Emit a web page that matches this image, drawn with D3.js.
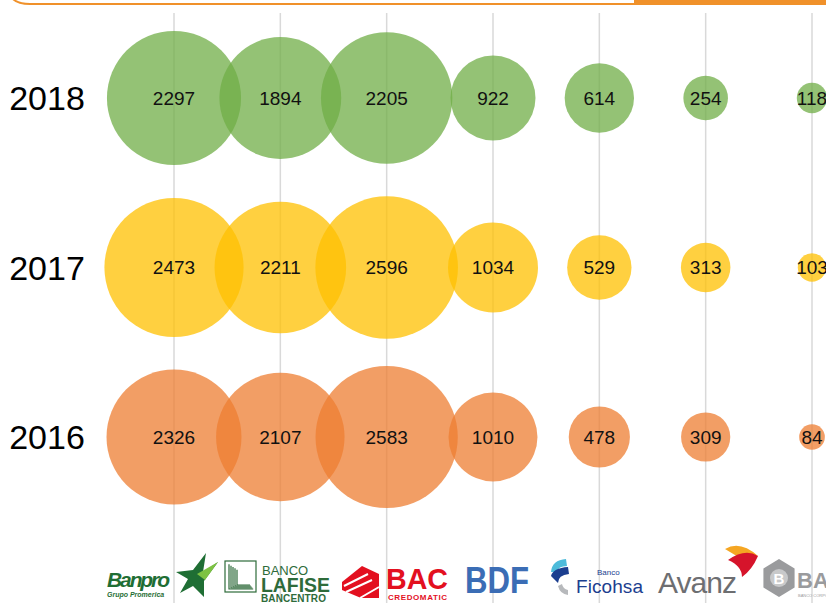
<!DOCTYPE html>
<html>
<head>
<meta charset="utf-8">
<script src="https://cdn.jsdelivr.net/npm/d3@7"></script>
<style>
  body { margin: 0; background: #fff; }
  svg { display: block; font-family: "Liberation Sans", Arial, Helvetica, sans-serif; }
</style>
</head>
<body>
<div id="chart"></div>
<script>
var width = 826;
var height = 603;

// data
var banks = ["Banpro", "Lafise Bancentro", "BAC", "BDF", "Ficohsa", "Avanz", "Bancorp"];
var years = ["2018", "2017", "2016"];
var values2018 = [2297, 1894, 2205, 922, 614, 254, 118];
var values2017 = [2473, 2211, 2596, 1034, 529, 313, 103];
var values2016 = [2326, 2107, 2583, 1010, 478, 309, 84];
var yearColors = ["#70AD47", "#FFC000", "#ED7D31"];

var series = [values2018, values2017, values2016];

var svg = d3.select("#chart")
    .append("svg")
    .attr("width", width)
    .attr("height", height);

var x = d3.scalePoint().domain(banks).range([174, 812]);
var y = d3.scalePoint().domain(years).range([98, 437]);
var r = d3.scaleSqrt().domain([0, 2596]).range([0, 71.3]);

// top frame (bottom edge of a rounded box)
svg.append("path")
    .attr("d", "M12,-2 Q17,4 30,4 L826,4")
    .attr("fill", "none")
    .attr("stroke", "#F0912A")
    .attr("stroke-width", 2);
svg.append("rect")
    .attr("x", 634).attr("y", 0)
    .attr("width", 192).attr("height", 4)
    .attr("fill", "#F0912A");

// vertical gridlines
svg.selectAll(".grid")
    .data(banks)
    .enter()
    .append("line")
    .attr("class", "grid")
    .attr("x1", function(d) { return x(d); })
    .attr("x2", function(d) { return x(d); })
    .attr("y1", 13)
    .attr("y2", height)
    .attr("stroke", "#d9d9d9")
    .attr("stroke-width", 1.5);

// flatten into cells
var cells = [];
years.forEach(function(yr, i) {
    banks.forEach(function(b, j) {
        cells.push({ year: yr, bank: b, value: series[i][j], color: yearColors[i] });
    });
});

svg.selectAll(".bubble")
    .data(cells)
    .enter()
    .append("circle")
    .attr("class", "bubble")
    .attr("cx", function(d) { return x(d.bank); })
    .attr("cy", function(d) { return y(d.year); })
    .attr("r", function(d) { return r(d.value); })
    .attr("fill", function(d) { return d.color; })
    .attr("fill-opacity", 0.75);

svg.selectAll(".val")
    .data(cells)
    .enter()
    .append("text")
    .attr("class", "val")
    .attr("x", function(d) { return x(d.bank); })
    .attr("y", function(d) { return y(d.year); })
    .attr("dy", "0.36em")
    .attr("text-anchor", "middle")
    .style("font-size", "19px")
    .attr("fill", "#111")
    .text(function(d) { return d.value; });

// year labels
svg.selectAll(".yr")
    .data(years)
    .enter()
    .append("text")
    .attr("class", "yr")
    .attr("x", 47)
    .attr("y", function(d) { return y(d); })
    .attr("dy", "0.36em")
    .attr("text-anchor", "middle")
    .style("font-size", "34px")
    .attr("fill", "#000")
    .text(function(d) { return d; });

// ---- bank logos along the bottom ----
var logos = svg.append("g").attr("class", "logos");

// Banpro
logos.append("text").attr("x", 107).attr("y", 587)
    .style("font-size", "21px").style("font-weight", "bold").style("font-style", "italic")
    .attr("fill", "#1F6E34").attr("textLength", 63).text("Banpro");
logos.append("text").attr("x", 107).attr("y", 597)
    .style("font-size", "7px").style("font-weight", "bold").style("font-style", "italic")
    .attr("fill", "#1F6E34").text("Grupo Promerica");
logos.append("path")
    .attr("d", "M176,572 L193,570 L206,553 L203,572 L218,562 L204,581 L204,597 L193,586 L180,593 L188,579 Z")
    .attr("fill", "#1F6E34");
logos.append("path")
    .attr("d", "M197,574 L218,562 L205,580 Z")
    .attr("fill", "#7DC242");

// Banco Lafise Bancentro
var lf = logos.append("g").attr("fill", "none").attr("stroke", "#2E6B3A").attr("stroke-width", 1.2);
lf.append("rect").attr("x", 225).attr("y", 561).attr("width", 31).attr("height", 31);
[4, 8, 12, 16, 20].forEach(function(o) {
    lf.append("path").attr("d", "M" + (227 + o / 2) + "," + (563 + o / 3) + " L" + (227 + o / 2) + "," + (590 - o / 4) + " L" + (254 - o / 5) + "," + (590 - o / 4));
});
logos.append("text").attr("x", 262).attr("y", 575)
    .style("font-size", "13px").attr("fill", "#2E6B3A").text("BANCO");
logos.append("text").attr("x", 261).attr("y", 592)
    .style("font-size", "20px").style("font-weight", "bold")
    .attr("fill", "#2E6B3A").attr("textLength", 69).attr("lengthAdjust", "spacingAndGlyphs").text("LAFISE");
logos.append("text").attr("x", 261).attr("y", 602)
    .style("font-size", "10px").style("font-weight", "bold")
    .attr("fill", "#2E6B3A").attr("textLength", 65).text("BANCENTRO");

// BAC Credomatic
logos.append("path")
    .attr("d", "M342,582 L362,566 L379,574 L379,598 L361,598 L342,590 Z")
    .attr("fill", "#E3101F");
logos.append("path")
    .attr("d", "M344,586 L368,574 M346,592 L372,580 M360,598 L379,587")
    .attr("stroke", "#fff").attr("stroke-width", 2).attr("fill", "none");
logos.append("text").attr("x", 386).attr("y", 589)
    .style("font-size", "30px").style("font-weight", "bold")
    .attr("fill", "#E3101F").attr("textLength", 62).attr("lengthAdjust", "spacingAndGlyphs").text("BAC");
logos.append("text").attr("x", 388).attr("y", 600)
    .style("font-size", "8px").style("font-weight", "bold")
    .attr("fill", "#E3101F").attr("textLength", 59).text("CREDOMATIC");

// BDF
logos.append("text").attr("x", 465).attr("y", 593)
    .style("font-size", "36px").style("font-weight", "bold")
    .attr("fill", "#3B6DB5").attr("textLength", 64).attr("lengthAdjust", "spacingAndGlyphs").text("BDF");

// Ficohsa
logos.append("path")
    .attr("d", "M551,572 Q552,560 566,559 L567,566 Q558,566 557,572 Z")
    .attr("fill", "#4DBBDA");
logos.append("path")
    .attr("d", "M551,576 Q553,568 568,567 L569,574 Q558,575 558,583 Z")
    .attr("fill", "#1B3E8F");
logos.append("path")
    .attr("d", "M558,586 Q560,594 568,595 L568,590 Q563,589 562,584 Z")
    .attr("fill", "#B7B9BC");
logos.append("text").attr("x", 597).attr("y", 575)
    .style("font-size", "8px").attr("fill", "#1B3E8F").text("Banco");
logos.append("text").attr("x", 576).attr("y", 593)
    .style("font-size", "19px").attr("fill", "#1B3E8F").attr("textLength", 67).text("Ficohsa");

// Avanz
logos.append("text").attr("x", 658).attr("y", 593)
    .style("font-size", "30px").style("font-weight", "300")
    .attr("fill", "#6D6E71").attr("textLength", 79).text("Avanz");
logos.append("path")
    .attr("d", "M725,549 Q740,540 758,556 Q748,553 740,558 Z")
    .attr("fill", "#F5A623");
logos.append("path")
    .attr("d", "M728,560 Q745,548 758,556 Q752,570 742,577 Q742,566 728,560 Z")
    .attr("fill", "#D6142B");

// Bancorp
var hex = d3.range(6).map(function(i) {
    var a = Math.PI / 3 * i - Math.PI / 2;
    return [779 + 18 * Math.cos(a), 578 + 19 * Math.sin(a)];
});
logos.append("path")
    .attr("d", "M" + hex.join("L") + "Z")
    .attr("fill", "#9A9B9D");
logos.append("circle").attr("cx", 779).attr("cy", 578).attr("r", 9).attr("fill", "#C8C9CA");
logos.append("text").attr("x", 779).attr("y", 584).attr("text-anchor", "middle")
    .style("font-size", "15px").style("font-weight", "bold").attr("fill", "#fff").text("B");
logos.append("text").attr("x", 797).attr("y", 588)
    .style("font-size", "22px").style("font-weight", "bold")
    .attr("fill", "#9A9B9D").text("BANCORP");
logos.append("text").attr("x", 798).attr("y", 597)
    .style("font-size", "4px").attr("fill", "#9A9B9D").text("BANCO CORPORATIVO");
</script>
</body>
</html>
